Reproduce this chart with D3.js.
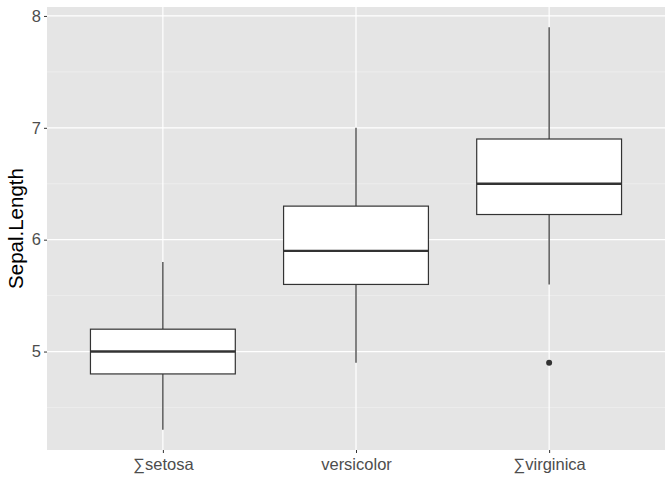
<!DOCTYPE html>
<html>
<head>
<meta charset="utf-8">
<script src="https://cdn.jsdelivr.net/npm/d3@7"></script>
<style>
  body { margin: 0; background: #fff; }
  text { font-family: "Liberation Sans", Arial, sans-serif; }
</style>
</head>
<body>
<svg id="chart" width="672" height="480"></svg>
<script>
const species = ["∑setosa", "versicolor", "∑virginica"];
const lowerWhisker = [4.3, 4.9, 5.6];
const q1 = [4.8, 5.6, 6.225];
const median = [5.0, 5.9, 6.5];
const q3 = [5.2, 6.3, 6.9];
const upperWhisker = [5.8, 7.0, 7.9];
const outliers = [[], [], [4.9]];
const yTicks = [5, 6, 7, 8];

const svg = d3.select("#chart");
const margin = { top: 7, right: 7, bottom: 30, left: 47 };
const dims = { width: 672, height: 480 };

const data = species.map((s, i) => ({
  name: s,
  lo: lowerWhisker[i],
  q1: q1[i],
  med: median[i],
  q3: q3[i],
  hi: upperWhisker[i],
  out: outliers[i]
}));

// continuous x so the discrete expansion (0.6) matches ggplot
const x = d3
  .scaleLinear()
  .domain([0.4, species.length + 0.6])
  .range([margin.left, dims.width - margin.right]);

const yMin = 4.3, yMax = 7.9, pad = (yMax - yMin) * 0.05;
const y = d3
  .scaleLinear()
  .domain([yMin - pad, yMax + pad])
  .range([dims.height - margin.bottom, margin.top]);

// panel background
svg
  .append("rect")
  .attr("x", margin.left)
  .attr("y", margin.top)
  .attr("width", dims.width - margin.left - margin.right)
  .attr("height", dims.height - margin.top - margin.bottom)
  .attr("fill", "#e5e5e5");

const grid = svg.append("g");
const minor = d3.range(4.5, 8, 1);
grid
  .selectAll(".minor")
  .data(minor)
  .enter()
  .append("line")
  .attr("x1", margin.left)
  .attr("x2", dims.width - margin.right)
  .attr("y1", (d) => y(d))
  .attr("y2", (d) => y(d))
  .attr("stroke", "#f2f2f2")
  .attr("stroke-width", 0.6);

grid
  .selectAll(".major")
  .data(yTicks)
  .enter()
  .append("line")
  .attr("x1", margin.left)
  .attr("x2", dims.width - margin.right)
  .attr("y1", (d) => y(d))
  .attr("y2", (d) => y(d))
  .attr("stroke", "#fff")
  .attr("stroke-width", 1.2);

grid
  .selectAll(".vmajor")
  .data(data)
  .enter()
  .append("line")
  .attr("x1", (d, i) => x(i + 1))
  .attr("x2", (d, i) => x(i + 1))
  .attr("y1", margin.top)
  .attr("y2", dims.height - margin.bottom)
  .attr("stroke", "#fff")
  .attr("stroke-width", 1.2);

// boxes
const halfW = (x(1.375) - x(1));
const boxes = svg
  .selectAll(".box")
  .data(data)
  .enter()
  .append("g")
  .attr("class", "box");

boxes
  .append("line")
  .attr("x1", (d, i) => x(i + 1))
  .attr("x2", (d, i) => x(i + 1))
  .attr("y1", (d) => y(d.hi))
  .attr("y2", (d) => y(d.q3))
  .attr("stroke", "#333")
  .attr("stroke-width", 1.2);

boxes
  .append("line")
  .attr("x1", (d, i) => x(i + 1))
  .attr("x2", (d, i) => x(i + 1))
  .attr("y1", (d) => y(d.q1))
  .attr("y2", (d) => y(d.lo))
  .attr("stroke", "#333")
  .attr("stroke-width", 1.2);

boxes
  .append("rect")
  .attr("x", (d, i) => x(i + 1) - halfW)
  .attr("width", halfW * 2)
  .attr("y", (d) => y(d.q3))
  .attr("height", (d) => y(d.q1) - y(d.q3))
  .attr("fill", "#fff")
  .attr("stroke", "#333")
  .attr("stroke-width", 1.2);

boxes
  .append("line")
  .attr("x1", (d, i) => x(i + 1) - halfW)
  .attr("x2", (d, i) => x(i + 1) + halfW)
  .attr("y1", (d) => y(d.med))
  .attr("y2", (d) => y(d.med))
  .attr("stroke", "#333")
  .attr("stroke-width", 2.4);

boxes.each(function (d, i) {
  d3.select(this)
    .selectAll("circle")
    .data(d.out)
    .enter()
    .append("circle")
    .attr("cx", x(i + 1))
    .attr("cy", (v) => y(v))
    .attr("r", 3)
    .attr("fill", "#333");
});

// axes
const yAxis = svg
  .append("g")
  .attr("transform", `translate(${margin.left},0)`)
  .call(d3.axisLeft(y).tickValues(yTicks).tickSize(3).tickPadding(3).tickFormat(d3.format("d")));
yAxis.select(".domain").remove();
yAxis.selectAll("line").attr("stroke", "#333");
yAxis.selectAll("text").attr("fill", "#4d4d4d").style("font-size", "16.5px")
  .style("font-family", "'Liberation Sans', Arial, sans-serif");

const xAxis = svg
  .append("g")
  .attr("transform", `translate(0,${dims.height - margin.bottom})`)
  .call(d3.axisBottom(x).tickValues([1, 2, 3]).tickSize(3).tickPadding(5)
    .tickFormat((d) => species[d - 1]));
xAxis.select(".domain").remove();
xAxis.selectAll("line").attr("stroke", "#333");
xAxis.selectAll("text").attr("fill", "#4d4d4d").style("font-size", "16.5px")
  .style("font-family", "'Liberation Sans', Arial, sans-serif");

svg
  .append("text")
  .attr("transform", `translate(23,${(margin.top + dims.height - margin.bottom) / 2}) rotate(-90)`)
  .attr("text-anchor", "middle")
  .style("font-size", "20.5px")
  .attr("fill", "#000")
  .text("Sepal.Length");
</script>
</body>
</html>
